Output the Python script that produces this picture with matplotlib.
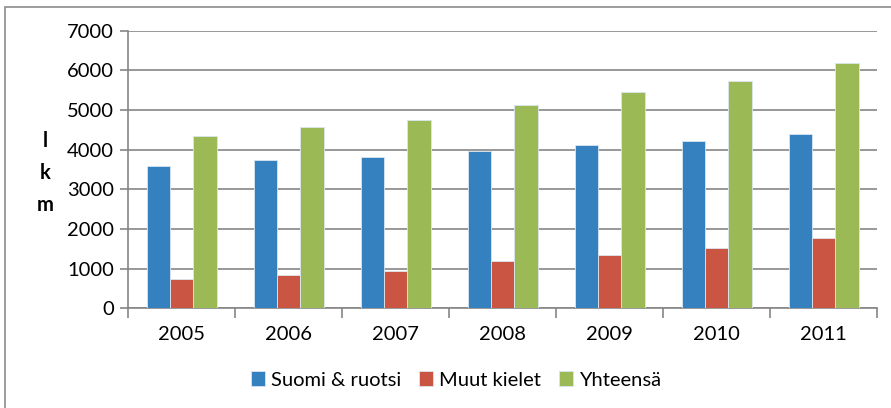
import matplotlib.pyplot as plt
from matplotlib.patches import Rectangle
import numpy as np

years = ['2005', '2006', '2007', '2008', '2009', '2010', '2011']
suomi_ruotsi = [3600, 3740, 3805, 3965, 4105, 4225, 4400]
muut_kielet = [740, 830, 945, 1195, 1355, 1515, 1775]
yhteensa = [4350, 4560, 4745, 5130, 5455, 5730, 6185]

series_names = ['Suomi & ruotsi', 'Muut kielet', 'Yhteensä']
colors = ['#3580BE', '#CA5543', '#9BBA55']

plt.rcParams['font.family'] = ['Lato', 'DejaVu Sans']
fs = 14.5

fig = plt.figure(figsize=(8.91, 4.08), dpi=100)
ax = fig.add_axes([0.1437, 0.2444, 0.8406, 0.6804])

x = np.arange(len(years))
w = 0.218
for i, (vals, name, c) in enumerate(zip([suomi_ruotsi, muut_kielet, yhteensa], series_names, colors)):
    ax.bar(x + (i - 1) * w, vals, width=w, color=c, label=name,
           edgecolor='#dbe6f0', linewidth=0.6, zorder=3)

grid_c = '#868686'
ax.set_ylim(0, 7000)
ax.set_yticks(range(0, 7001, 1000))
ax.set_xlim(-0.5, len(years) - 0.5)
ax.set_xticks(x)
ax.set_xticklabels(years)
ax.set_xticks(np.arange(-0.5, len(years)), minor=True)
ax.yaxis.grid(True, color=grid_c, linewidth=1.2, zorder=0)
ax.tick_params(axis='x', which='major', length=0, pad=13, labelsize=fs)
ax.tick_params(axis='x', which='minor', length=7, color=grid_c, width=1.2)
ax.tick_params(axis='y', length=6, color=grid_c, width=1.2, pad=4, labelsize=fs)
for s in ['top', 'right']:
    ax.spines[s].set_visible(False)
for s in ['left', 'bottom']:
    ax.spines[s].set_color(grid_c)
    ax.spines[s].set_linewidth(1.2)

fig.text(45 / 891, 1 - 173 / 408, 'l\nk\nm', ha='center', va='center',
         fontsize=fs, fontweight='bold', linespacing=1.75)

ax.legend(loc='center', bbox_to_anchor=(456 / 891, 1 - 380 / 408),
          bbox_transform=fig.transFigure, ncol=3, frameon=False,
          fontsize=fs, handlelength=0.7, handleheight=0.7,
          handletextpad=0.3, columnspacing=0.9)

fig.patches.append(Rectangle((5 / 891, -0.05), 1.1, 1 - 7 / 408 + 0.05,
                             transform=fig.transFigure, fill=False,
                             edgecolor='#8c8c8c', linewidth=1.2))

fig.savefig('out.png', dpi=100)
